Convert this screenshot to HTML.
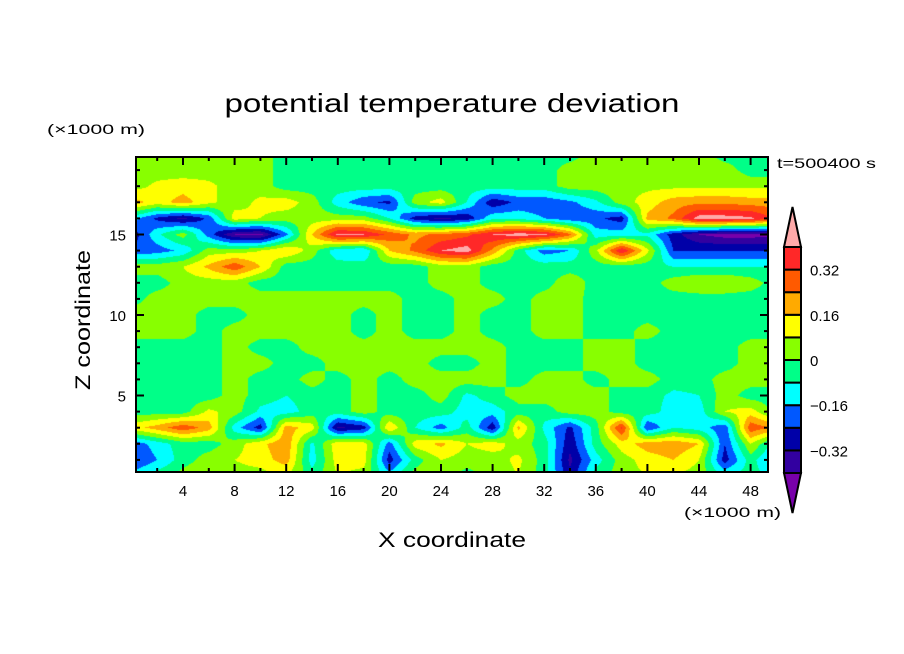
<!DOCTYPE html>
<html><head><meta charset="utf-8"><style>
html,body{margin:0;padding:0;background:#fff;}
#wrap{position:relative;width:904px;height:654px;overflow:hidden;font-family:"Liberation Sans",sans-serif;}
canvas{position:absolute;left:136px;top:157px;}
svg{position:absolute;left:0;top:0;}
</style></head><body>
<div id="wrap">
<canvas id="cv" width="632" height="315"></canvas>
<svg id="sv" width="904" height="654">
<text x="452" y="112" text-anchor="middle" font-size="26" textLength="455" lengthAdjust="spacingAndGlyphs">potential temperature deviation</text>
<text x="47" y="134" font-size="14" textLength="98" lengthAdjust="spacingAndGlyphs">(×1000 m)</text>
<text x="777" y="168" font-size="14" textLength="99" lengthAdjust="spacingAndGlyphs">t=500400 s</text>
<text x="684" y="517" font-size="14" textLength="97" lengthAdjust="spacingAndGlyphs">(×1000 m)</text>
<text x="452" y="547" text-anchor="middle" font-size="21" textLength="148" lengthAdjust="spacingAndGlyphs">X coordinate</text>
<text transform="translate(90,320) rotate(-90)" text-anchor="middle" font-size="21" textLength="140" lengthAdjust="spacingAndGlyphs">Z coordinate</text>
<g id="axes"></g>
<g id="cbar"></g>
</svg>
</div>
<script>
// grid columns X (×1000 m) and rows Z (×1000 m)
const gridX = [0,2,4,6,8,10,12,14,16,18,20,22,24,26,28,30,32,34,36,38,40,42,44,46,48,50];
const gridZ = [20,19,18,17,16,15,14,13,12,11,10,9,8,7,6,5,4,3,2,1,0];
// potential temperature deviation in 0.01 K, one row per Z
const row20 = [4,4,4,4,4,4,-4,-4,-4,-4,-4,-4,-4,-4,-4,-4,-4,-4,4,4,4,4,4,-4,-4,-4];
const row19 = [4,4,4,4,4,4,-4,-4,-4,-4,-4,-4,-4,-4,-4,-4,-4,4,4,4,4,4,4,4,-4,-4];
const row18 = [4,10,12,10,4,4,-4,-4,-4,-4,-4,-4,-4,-4,-4,-4,-4,4,4,6,6,6,6,6,6,6];
const row17 = [20,12,20,10,4,10,12,4,-12,-22,-26,4,12,-8,-30,-22,-22,-18,-10,4,12,20,22,22,20,20];
const row16 = [-12,-26,-34,-22,12,8,4,4,4,4,-8,-28,-34,-30,-10,-10,-16,-22,-22,-28,18,26,44,44,42,30];
const row15 = [-30,-10,4,-20,-40,-42,-18,16,42,40,30,22,26,30,40,44,42,26,-12,-12,-10,-28,-40,-44,-44,-42];
const row14 = [-22,-20,-14,4,4,8,16,4,-14,-16,16,26,40,44,22,-4,-20,-16,6,40,10,-24,-24,-24,-24,-24];
const row13 = [4,4,8,18,30,16,-4,-4,-4,-4,-4,-4,4,4,-4,-4,-4,-4,-4,-4,-4,-8,-8,-8,-8,-8];
const row12 = [-4,-4,4,4,4,-4,-4,-4,-4,-4,-4,-4,4,4,-4,-4,-4,6,-4,-4,-4,4,8,8,4,-4];
const row11 = [-4,4,4,4,4,4,4,4,4,4,4,-4,-4,4,4,-4,4,4,-4,-4,-4,-4,-4,-4,-4,-4];
const row10 = [4,4,4,-4,-4,4,4,4,4,-4,4,-4,-4,4,-4,-4,4,4,-4,-4,-4,-4,-4,-4,-4,-4];
const row9 = [4,4,4,-4,4,4,4,4,4,-4,4,-4,-4,4,-4,-4,4,4,-4,-4,4,-4,-4,-4,-4,-4];
const row8 = [-4,-4,-4,-4,4,-4,-4,4,4,4,4,4,4,4,4,-4,-4,-4,4,4,-4,-4,-4,-4,4,4];
const row7 = [-4,-4,-4,-4,4,4,-4,-4,4,4,4,4,-4,-4,4,-4,-4,-4,4,4,-4,-4,-4,-4,4,4];
const row6 = [-4,-4,-4,-4,4,-4,-4,4,-4,4,-4,4,4,4,4,-4,4,4,-4,4,4,-4,-4,4,4,4];
const row5 = [-4,-4,-4,-4,4,-4,-8,-4,-4,4,-4,-4,4,-10,-4,4,4,4,4,-4,-4,-10,-8,4,-4,-4];
const row4 = [-4,-4,-4,10,4,-10,-12,-4,-4,4,-4,-4,-4,-12,-12,-4,-4,4,4,-4,-4,-12,-12,8,12,-4];
const row3 = [12,20,30,20,-12,-28,20,12,-34,-28,16,-8,-20,-4,-30,18,-10,-26,-4,34,-24,-8,-12,-22,30,22];
const row2 = [-22,-12,-4,-4,4,14,22,-10,14,12,-20,12,18,8,12,4,-4,-30,-4,12,20,22,16,-24,8,-12];
const row1 = [-26,-16,-4,4,8,12,20,-12,12,12,-28,-4,8,4,4,10,-4,-34,-12,4,12,16,8,-28,-4,-22];
const row0 = [-12,-4,4,8,4,4,8,-4,8,4,-12,4,4,-4,4,8,-4,-30,-4,4,8,8,4,-8,-4,-12];
const field = [row20,row19,row18,row17,row16,row15,row14,row13,row12,row11,row10,row9,row8,row7,row6,row5,row4,row3,row2,row1,row0];
// contour levels (0.01 K) and fill colours
const levels = [-40,-32,-24,-16,-8,0,8,16,24,32,40];
const colors = ['#7800aa','#3200a0','#0000a8','#0058ff','#00ffff','#00ff88','#88ff00','#ffff00','#ffaa00','#ff5a00','#ff2828','#ffaaaa'];
const xTicks = [4,8,12,16,20,24,28,32,36,40,44,48];
const yTicks = [5,10,15];
const cbarLabels = ['0.32','0.16','0','\u22120.16','\u22120.32'];
const cbarLabelLevels = [32,16,0,-16,-32];

const PL=136,PT=157,PR=768,PB=472;
function xPix(X){return 131.4+12.9*X;}
function yPix(Z){return 476-16.1*Z;}
function xVal(px){return (px-131.4)/12.9;}
function zVal(py){return (476-py)/16.1;}
function hex(c){return [parseInt(c.substr(1,2),16),parseInt(c.substr(3,2),16),parseInt(c.substr(5,2),16)];}
const rgb = colors.map(hex);
function sample(X,Z){
  const gi = Math.max(0,Math.min(gridX.length-1.001,(X-gridX[0])/(gridX[1]-gridX[0])));
  const gj = Math.max(0,Math.min(gridZ.length-1.001,(gridZ[0]-Z)/(gridZ[0]-gridZ[1])));
  const i=Math.floor(gi), j=Math.floor(gj), fx=gi-i, fz=gj-j;
  const a=field[j][i], b=field[j][i+1], c=field[j+1][i], d=field[j+1][i+1];
  return a*(1-fx)*(1-fz)+b*fx*(1-fz)+c*(1-fx)*fz+d*fx*fz;
}
function levelIndex(v){let k=0;while(k<levels.length&&v>=levels[k])k++;return k;}
(function(){
  const cv=document.getElementById('cv'),ctx=cv.getContext('2d');
  const W=cv.width,H=cv.height,img=ctx.createImageData(W,H);
  for(let y=0;y<H;y++)for(let x=0;x<W;x++){
    const v=sample(xVal(PL+x+0.5),zVal(PT+y+0.5));
    const c=rgb[levelIndex(v)],o=(y*W+x)*4;
    img.data[o]=c[0];img.data[o+1]=c[1];img.data[o+2]=c[2];img.data[o+3]=255;
  }
  ctx.putImageData(img,0,0);
})();
const NS='http://www.w3.org/2000/svg';
function mk(tag,attrs,parent){const e=document.createElementNS(NS,tag);for(const k in attrs)e.setAttribute(k,attrs[k]);parent.appendChild(e);return e;}
const axes=document.getElementById('axes');
let fr=mk('rect',{x:PL,y:PT,width:PR-PL,height:PB-PT,fill:'none',stroke:'#000','stroke-width':2},axes);


for(let X=2;X<=48;X+=2){
  const major=X%4===0,len=major?8:4,px=xPix(X);
  let t1=mk('line',{x1:px,y1:PB,x2:px,y2:PB-len,stroke:'#000','stroke-width':2},axes);
  
  
  let t2=mk('line',{x1:px,y1:PT,x2:px,y2:PT+len,stroke:'#000','stroke-width':2},axes);
  
  
}
for(let Z=1;Z<=19;Z++){
  const major=Z%5===0,len=major?8:4,py=yPix(Z);
  let t1=mk('line',{x1:PL,y1:py,x2:PL+len,y2:py,stroke:'#000','stroke-width':2},axes);
  
  
  let t2=mk('line',{x1:PR,y1:py,x2:PR-len,y2:py,stroke:'#000','stroke-width':2},axes);
  
  
}
xTicks.forEach(X=>{
  let t=mk('text',{x:xPix(X),y:496,'text-anchor':'middle','font-size':15},axes);
  t.textContent=X;
  
  
});
yTicks.forEach(Z=>{
  let t=mk('text',{x:126,y:yPix(Z)+6,'text-anchor':'end','font-size':15},axes);
  t.textContent=Z;
  
  
});
// colorbar
const cb=document.getElementById('cbar');
const CBX=784,CBW=17,CBTOP=247,CBH=22.6;
const nBox=levels.length-1;
function cbY(lv){return CBTOP+(levels[levels.length-1]-lv)/(levels[1]-levels[0])*CBH;}
for(let k=1;k<=nBox;k++){
  let r=mk('rect',{x:CBX,y:cbY(levels[k]),width:CBW,height:CBH,fill:colors[k],stroke:'#000','stroke-width':2},cb);
  
  
}
let tt=mk('polygon',{points:`${CBX},${CBTOP} ${CBX+CBW},${CBTOP} ${CBX+CBW/2},${207}`,fill:colors[colors.length-1],stroke:'#000','stroke-width':2},cb);


const cbBot=cbY(levels[0]);
let tb=mk('polygon',{points:`${CBX},${cbBot} ${CBX+CBW},${cbBot} ${CBX+CBW/2},${513}`,fill:colors[0],stroke:'#000','stroke-width':2},cb);


cbarLabels.forEach((s,i)=>{
  let t=mk('text',{x:810,y:cbY(cbarLabelLevels[i])+6,'font-size':15},cb);
  t.textContent=s;
  
  
});
</script>
</body></html>
